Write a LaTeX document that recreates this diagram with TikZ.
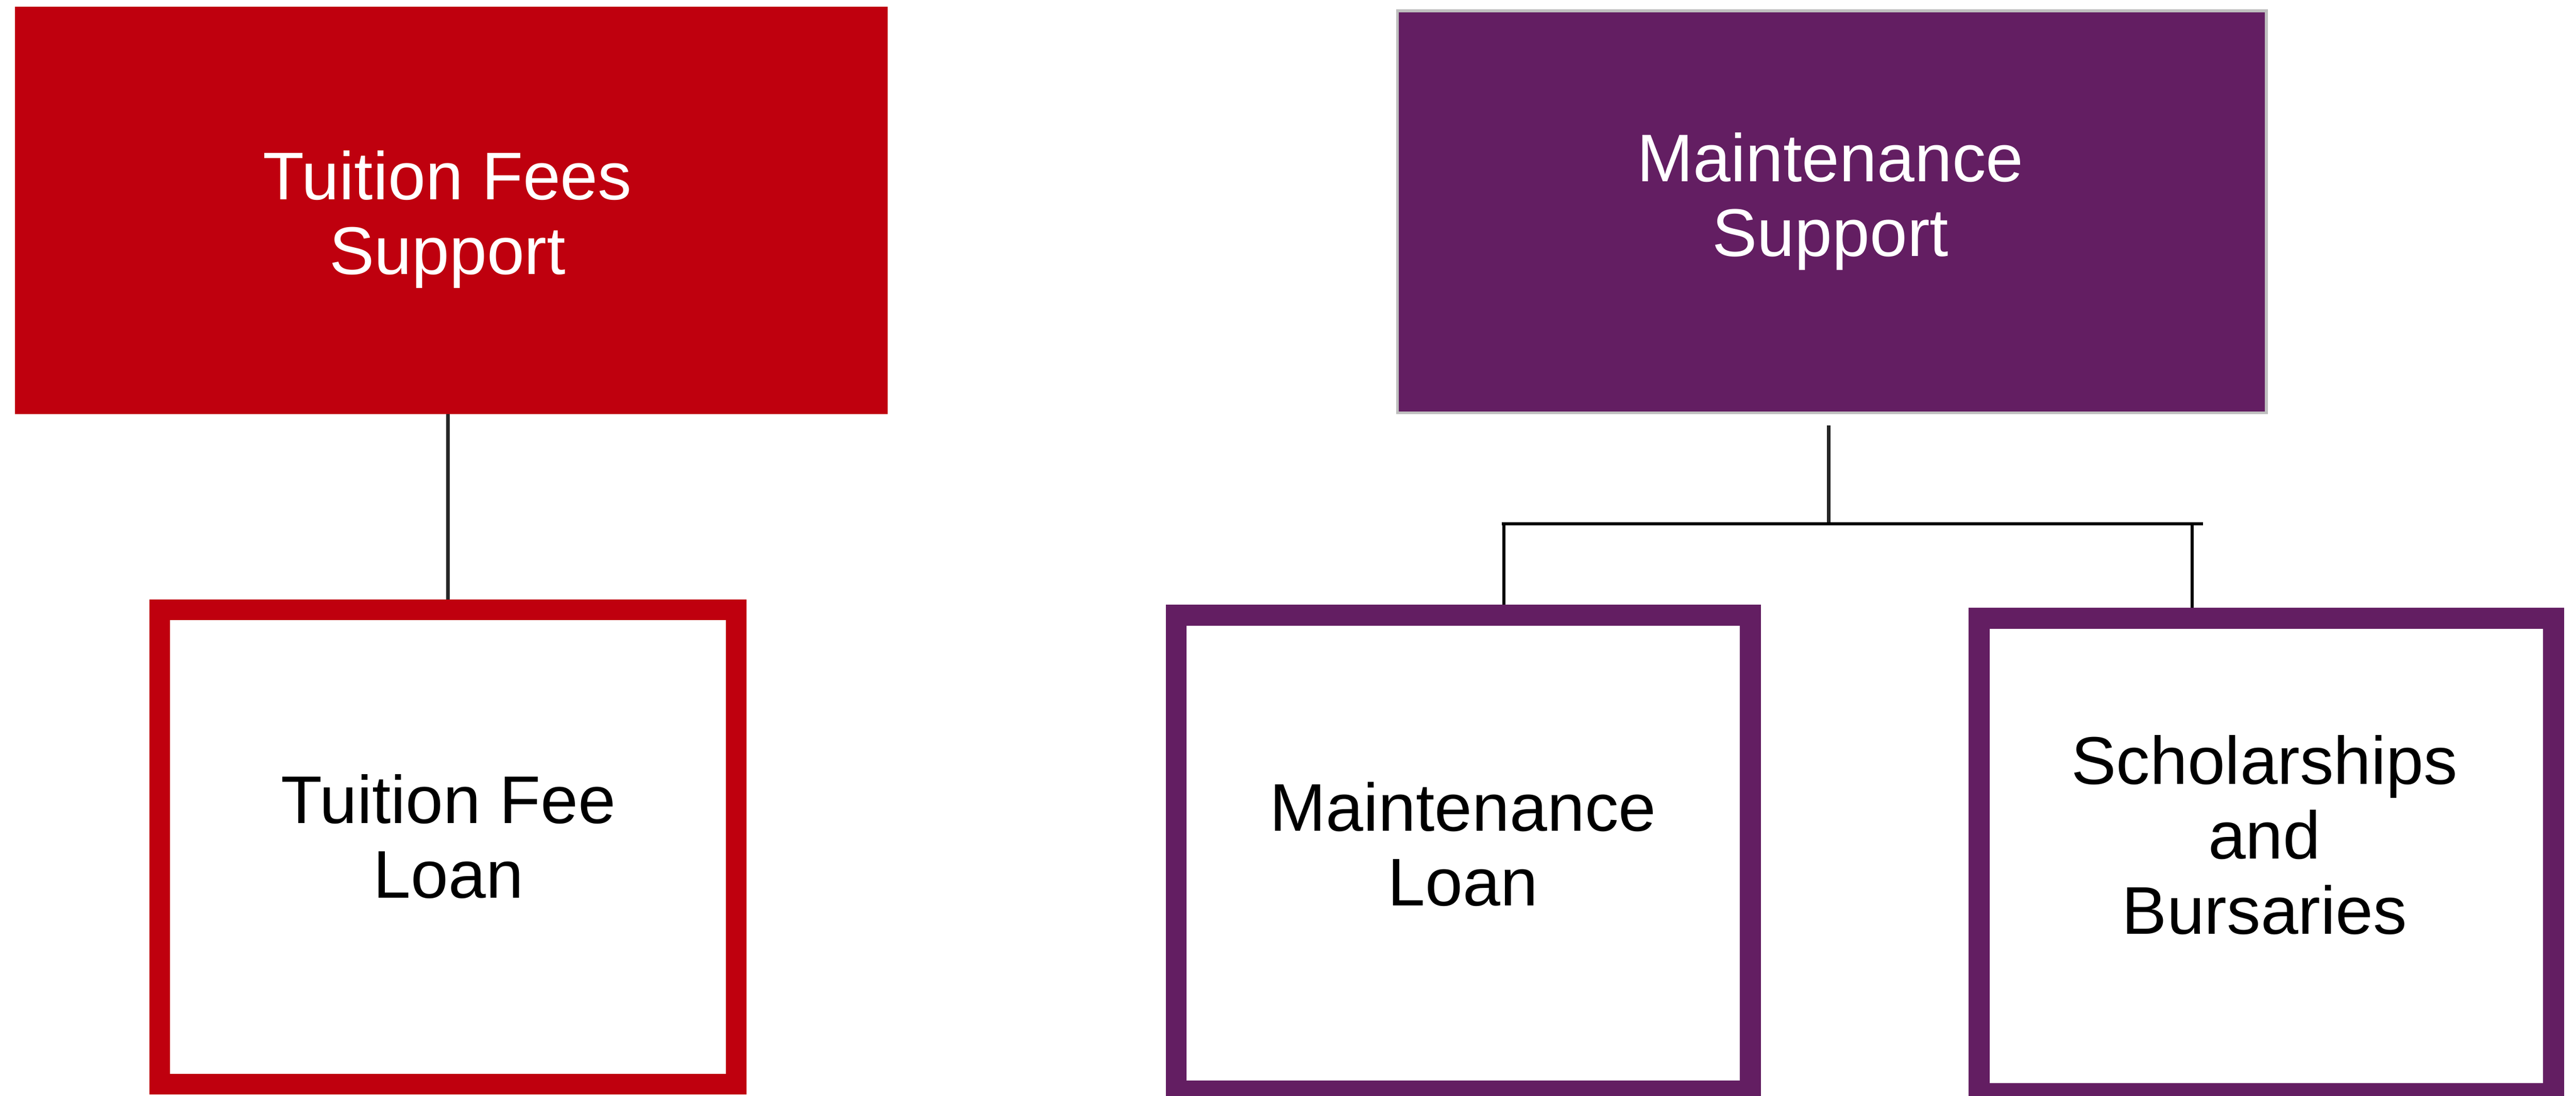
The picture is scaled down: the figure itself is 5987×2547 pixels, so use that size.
\documentclass[tikz,border=0pt]{standalone}
\usepackage{fontspec}
\setmainfont{Liberation Sans}
\usetikzlibrary{backgrounds}
\definecolor{tfred}{RGB}{191,0,14}
\definecolor{mpurple}{RGB}{99,30,98}
\definecolor{lgray}{RGB}{191,191,191}
\begin{document}
\begin{tikzpicture}[x=0.01cm,y=-0.01cm,
  box/.style={rectangle,inner sep=0pt,outer sep=0pt},
  topred/.style={box,fill=tfred},
  toppurple/.style={box,fill=mpurple,draw=lgray,line width=0.07cm},
  redframe/.style={box,draw=tfred,line width=0.48cm,fill=white},
  purpleframe/.style={box,draw=mpurple,line width=0.49cm,fill=white},
  lbl/.style={inner sep=0pt,outer sep=0pt,align=center,font=\fontsize{44.6}{49.5}\selectfont},
  conn/.style={draw=black!85,line width=0.08cm},
  barline/.style={draw=black,line width=0.07cm}]
\clip (0,0) rectangle (5987,2547);
% top boxes
\node[topred,minimum width=20.27cm,minimum height=9.47cm] (tfs) at (1048.5,489.5) {};
\node[toppurple,minimum width=20.18cm,minimum height=9.34cm] (ms) at (4257.5,492.5) {};
% bottom boxes
\node[redframe,minimum width=13.39cm,minimum height=11.02cm] (tfl) at (1041.5,1969) {};
\node[purpleframe,minimum width=13.34cm,minimum height=11.05cm] (ml) at (3401,1983.5) {};
\node[purpleframe,minimum width=13.34cm,minimum height=11.055cm] (sb) at (5267.5,1990) {};
% labels
\node[lbl,text=white] (tfsL) at (1040,510) {Tuition Fees\\Support};
\node[lbl,text=white] (msL) at (4254,468) {Maintenance\\Support};
\node[lbl] (tflL) at (1042,1945) {Tuition Fee\\Loan};
\node[lbl] (mlL) at (3400,1963) {Maintenance\\Loan};
\node[lbl] (sbL) at (5263,1941) {Scholarships\\and\\Bursaries};
% connectors
\coordinate (msfoot) at (4250,989);
\coordinate (barM) at (4250,1217.5);
\coordinate (barL) at (3490,1217.5);
\coordinate (barR) at (5120,1217.5);
\coordinate (dropL) at (3495,1217.5);
\coordinate (dropR) at (5095,1217.5);
\begin{pgfonlayer}{background}
\draw[conn] (tfl.north |- tfs.south) -- (tfl.north);
\draw[conn] (msfoot) -- (barM);
\draw[barline] (barL) -- (barR);
\draw[barline] (dropL) -- (dropL |- ml.north);
\draw[barline] (dropR) -- (dropR |- sb.north);
\end{pgfonlayer}
\end{tikzpicture}
\end{document}
